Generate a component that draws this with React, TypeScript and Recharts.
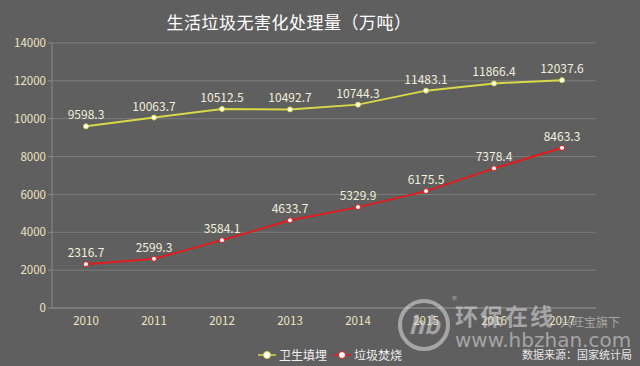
import React from 'react'
import { LineChart, Line, XAxis, YAxis, CartesianGrid, LabelList } from 'recharts'

const years = ['2010', '2011', '2012', '2013', '2014', '2015', '2016', '2017']
const landfill = [9598.3, 10063.7, 10512.5, 10492.7, 10744.3, 11483.1, 11866.4, 12037.6]
const incineration = [2316.7, 2599.3, 3584.1, 4633.7, 5329.9, 6175.5, 7378.4, 8463.3]
const yTicks = [0, 2000, 4000, 6000, 8000, 10000, 12000, 14000]

const data = years.map((year, i) => ({
  year,
  landfill: landfill[i],
  incineration: incineration[i],
}))

const BG = '#5f5f5f'
const TICK = '#efe4c2'
const LABEL = '#f2efdc'
const YELLOW = '#d8d848'
const RED = '#e01c1c'
const FONT = '"Noto Sans CJK SC", "Noto Sans", sans-serif'

// legend drawn by hand so it doesn't eat into the plot area
function ChartLegend() {
  const items = [
    { name: '卫生填埋', color: YELLOW },
    { name: '垃圾焚烧', color: RED },
  ]
  return (
    <div style={{ position: 'absolute', left: 0, top: 346, width: 660, display: 'flex', justifyContent: 'center', gap: 6, fontSize: 12, color: '#f0f0f0', fontFamily: FONT }}>
      {items.map(it => (
        <span key={it.name} style={{ display: 'flex', alignItems: 'center' }}>
          <svg width={18} height={10} style={{ marginRight: 3 }}>
            <line x1={0} y1={5} x2={18} y2={5} stroke={it.color} strokeWidth={1.5} />
            <circle cx={9} cy={5} r={3.5} fill="#fff" stroke={it.color} strokeWidth={1} />
          </svg>
          {it.name}
        </span>
      ))}
    </div>
  )
}

export default function App() {
  return (
    <div style={{ position: 'absolute', left: 0, top: 0, width: 640, height: 366, background: BG, overflow: 'hidden' }}>
      <div style={{ position: 'absolute', left: 16, top: 9, width: 546, textAlign: 'center', color: '#ffffff', fontSize: 17, fontFamily: FONT, letterSpacing: 0.5 }}>
        生活垃圾无害化处理量（万吨）
      </div>
      <LineChart width={640} height={366} data={data} margin={{ top: 43, right: 44, bottom: 38, left: 0 }}>
        <CartesianGrid vertical={false} stroke="#7c7c7c" />
        <XAxis
          dataKey="year"
          stroke="#8a8a8a"
          tickLine={false}
          height={20}
          padding={{ left: 34, right: 34 }}
          tick={{ fill: TICK, fontSize: 11.5, fontFamily: FONT }}
          tickMargin={3}
        />
        <YAxis
          domain={[0, 14000]}
          ticks={yTicks}
          width={52}
          stroke="#8a8a8a"
          tickSize={4}
          tick={{ fill: TICK, fontSize: 11.5, fontFamily: FONT }}
        />
        <Line
          type="linear"
          dataKey="landfill"
          name="卫生填埋"
          stroke={YELLOW}
          strokeWidth={2}
          dot={{ r: 2.5, fill: '#fff', stroke: YELLOW, strokeWidth: 1 }}
          isAnimationActive={false}
        >
          <LabelList dataKey="landfill" position="top" offset={7} fill={LABEL} fontSize={12} fontFamily={FONT} />
        </Line>
        <Line
          type="linear"
          dataKey="incineration"
          name="垃圾焚烧"
          stroke={RED}
          strokeWidth={2}
          dot={{ r: 2.5, fill: '#fff', stroke: RED, strokeWidth: 1 }}
          isAnimationActive={false}
        >
          <LabelList dataKey="incineration" position="top" offset={7} fill={LABEL} fontSize={12} fontFamily={FONT} />
        </Line>
      </LineChart>
      <ChartLegend />
      <svg width={640} height={366} style={{ position: 'absolute', left: 0, top: 0, pointerEvents: 'none' }}>
        <g opacity={0.6} fill="#d4d4d4" fontFamily={FONT}>
          <circle cx={424} cy={325} r={24} fill="none" stroke="#d4d4d4" strokeWidth={4} />
          <text x={424} y={334} textAnchor="middle" fontSize={24} fontWeight="bold" fontStyle="italic">hb</text>
          <text x={452} y={304} fontSize={10}>®</text>
          <text x={455} y={325} fontSize={23} fontWeight="bold" letterSpacing={2}>环保在线</text>
          <text x={560} y={327} fontSize={12}>兴旺宝旗下</text>
          <text x={455} y={347} fontSize={20} fontFamily="'DejaVu Sans', sans-serif">www.hbzhan.com</text>
        </g>
        <text x={632} y={359} textAnchor="end" fontSize={11} fill="#e6e6e6" fontFamily={FONT}>数据来源：国家统计局</text>
      </svg>
    </div>
  )
}
